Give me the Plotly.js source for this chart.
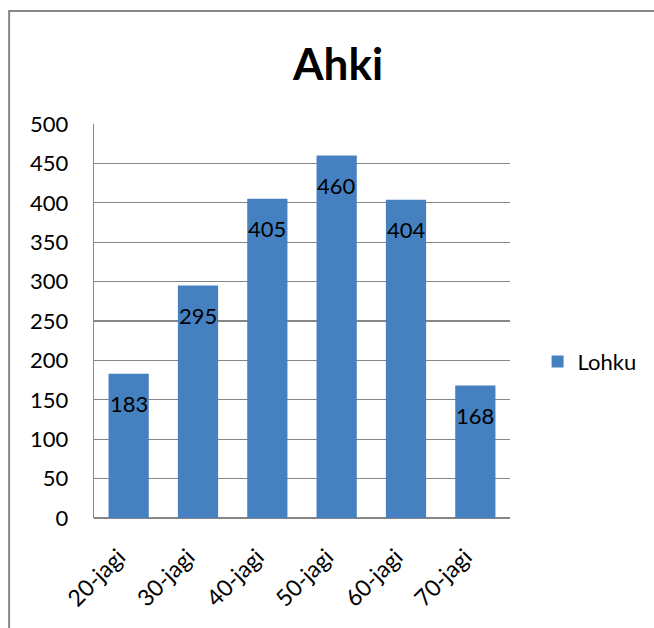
<!DOCTYPE html>
<html><head><meta charset="utf-8">
<script src="https://cdn.plot.ly/plotly-3.0.1.min.js"></script>
<style>body{margin:0;padding:0;background:#fff}#c{width:654px;height:628px}</style>
</head><body><div id="c"></div>
<script>
const categories = ["20-jagi","30-jagi","40-jagi","50-jagi","60-jagi","70-jagi"];
const values = [183, 295, 405, 460, 404, 168];
const seriesName = "Lohku";
const titleText = "Ahki";
const yTicks = [0,50,100,150,200,250,300,350,400,450,500];

const FONT = "Lato, 'Open Sans', sans-serif";
const trace = {
  type: "bar", x: categories, y: values, name: seriesName,
  marker: {color: "#4580C0"}, hoverinfo: "none"
};
const annotations = categories.map((c, i) => ({
  x: c, y: values[i], xref: "x", yref: "y", text: String(values[i]),
  showarrow: false, yanchor: "middle", yshift: -30,
  font: {family: FONT, size: 22, color: "#000"}
}));
const layout = {
  width: 654, height: 628,
  margin: {l: 94, r: 144, t: 124, b: 110, autoexpand: false},
  paper_bgcolor: "#fff", plot_bgcolor: "#fff",
  title: {text: "<b>" + titleText + "</b>", font: {family: FONT, size: 44, color: "#000"},
          x: 0.517, xanchor: "center", y: 0.897, yanchor: "middle"},
  bargap: 0.42,
  xaxis: {type: "category", tickangle: -45, showgrid: false, showline: false, ticks: "",
          ticklabelstandoff: 20, ticklabelshift: -10, automargin: false,
          tickfont: {family: FONT, size: 23, color: "#000"}, zeroline: false},
  yaxis: {range: [0, 500], tickvals: yTicks, ticktext: yTicks.map(String), showgrid: true,
          gridcolor: "#868686", gridwidth: 1.3, showline: true, linecolor: "#868686", linewidth: 1.3,
          ticks: "", ticklen: 0, zeroline: true, zerolinecolor: "#868686", zerolinewidth: 1.3,
          ticklabelstandoff: 20, automargin: false,
          tickfont: {family: FONT, size: 22, color: "#000"}},
  showlegend: true,
  legend: {xref: "container", yref: "container", x: 0.822, xanchor: "left", y: 0.424, yanchor: "middle",
           font: {family: FONT, size: 22, color: "#000"},
           bgcolor: "rgba(0,0,0,0)", itemwidth: 30},
  annotations: annotations,
  shapes: [{type: "rect", xref: "paper", yref: "paper", x0: -0.204, x1: 1.4, y0: -0.4, y1: 1.287,
            line: {color: "#868686", width: 2}, fillcolor: "rgba(0,0,0,0)", layer: "below"}]
};
Plotly.newPlot("c", [trace], layout, {displayModeBar: false, staticPlot: true});
</script></body></html>
